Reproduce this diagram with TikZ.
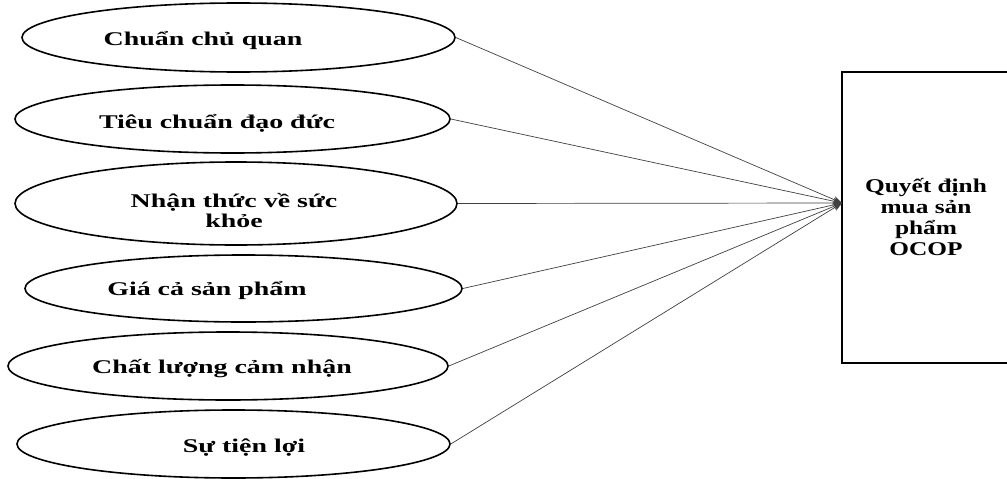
\documentclass[tikz,border=0pt]{standalone}
\usepackage{fontspec}
\setmainfont{Liberation Serif}
\newfontfamily\ellfont[FakeStretch=1.44]{Liberation Serif}
\newfontfamily\boxfont[FakeStretch=1.3]{Liberation Serif}
\usetikzlibrary{arrows.meta,shapes.geometric}
\tikzset{
  factor/.style={draw=black, line width=1.6pt, ellipse, inner sep=0pt},
  lbl/.style={font=\ellfont\bfseries\fontsize{19.4}{19.5}\selectfont, inner sep=0pt, anchor=base, align=center},
  boxlbl/.style={font=\boxfont\bfseries\fontsize{19.5}{21}\selectfont, inner sep=0pt, anchor=base, align=center},
  link/.style={draw=black!75, line width=0.7pt, -{Stealth[length=9pt,width=7pt]}}
}
\begin{document}
\begin{tikzpicture}[x=1pt,y=-1pt]
\useasboundingbox (0,0) rectangle (1007,479);
\clip (0,0) rectangle (1007,479);
\fill[white] (0,0) rectangle (1007,479);
% ellipses
\node[factor, minimum width=433pt, minimum height=69pt] (e1) at (238.5,37.5) {};
\node[factor, minimum width=435pt, minimum height=68pt] (e2) at (232.5,119) {};
\node[factor, minimum width=442pt, minimum height=83pt] (e3) at (236,203.5) {};
\node[factor, minimum width=437pt, minimum height=67pt] (e4) at (243.5,288.5) {};
\node[factor, minimum width=440pt, minimum height=68pt] (e5) at (228,366) {};
\node[factor, minimum width=433pt, minimum height=68pt] (e6) at (233.5,444) {};
% labels
\node[lbl] (t1) at (203,45) {Chuẩn chủ quan};
\node[lbl] (t2) at (217,128) {Tiêu chuẩn đạo đức};
\node[lbl] (t3) at (234,227) {Nhận thức về sức\\khỏe};
\node[lbl] (t4) at (207,295) {Giá cả sản phẩm};
\node[lbl] (t5) at (222,373) {Chất lượng cảm nhận};
\node[lbl] (t6) at (244,452) {Sự tiện lợi};
% target box
\draw[line width=1.6pt] (1020,72) -- (842,72) -- (842,363) -- (1020,363);
\node[boxlbl] (q) at (926,255) {Quyết định\\mua sản\\phẩm\\OCOP};
\coordinate (tgt) at (842,203);
% connectors
\foreach \e in {e1,e2,e3,e4,e5,e6}
  \draw[link] (\e.east) -- (tgt);
\end{tikzpicture}
\end{document}
